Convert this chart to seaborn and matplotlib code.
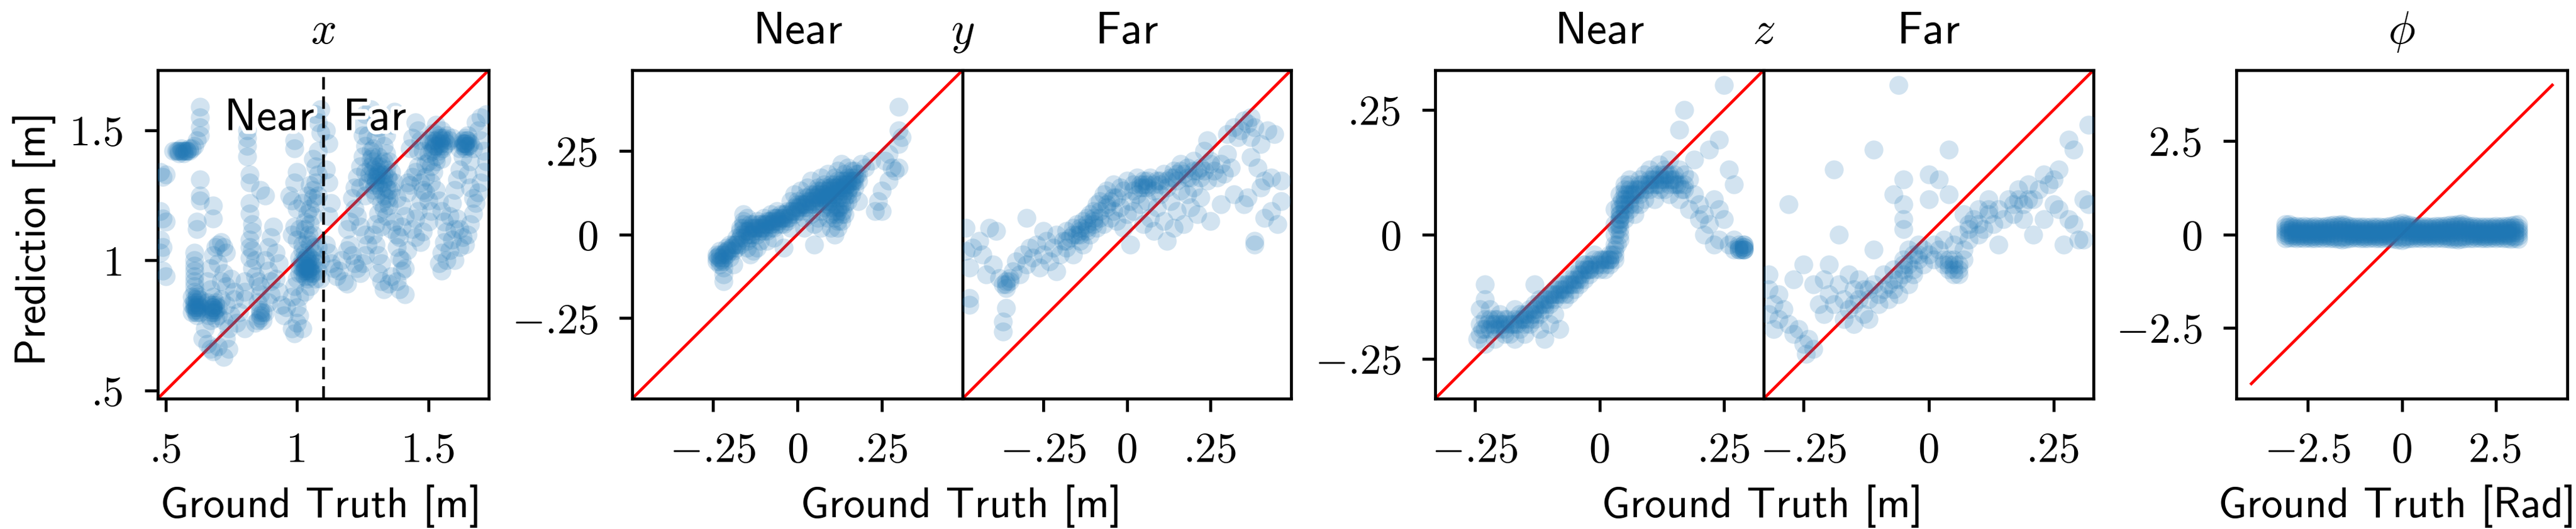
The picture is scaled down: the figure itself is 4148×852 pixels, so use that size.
import numpy as np
import pandas as pd
import matplotlib
matplotlib.use("Agg")
import matplotlib.pyplot as plt
import matplotlib.patheffects as pe
import seaborn as sns

# ---------------- data (ground truth, prediction) ----------------
x_points = [
    (0.53,1.42),(0.54,1.42),(0.55,1.41),(0.56,1.42),(0.57,1.42),(0.58,1.42),(0.59,1.43),(0.60,1.43),
    (0.61,1.44),(0.62,1.46),(0.63,1.48),(0.63,1.51),(0.63,1.55),(0.63,1.59),
    (0.48,1.34),(0.50,1.33),(0.49,1.32),(0.48,1.19),(0.49,1.16),(0.50,1.15),(0.48,1.08),(0.49,1.05),
    (0.48,1.03),(0.49,0.96),(0.50,0.94),
    (0.63,1.31),(0.63,1.25),(0.63,1.23),(0.62,1.15),(0.62,1.12),(0.61,1.03),(0.61,1.00),(0.61,0.98),
    (0.61,0.96),(0.61,0.94),(0.61,0.92),(0.61,0.90),(0.61,0.88),(0.62,0.86),(0.62,0.84),(0.62,0.82),
    (0.62,0.81),(0.63,0.80),(0.60,0.83),(0.60,0.80),
    (0.64,0.70),(0.66,0.68),(0.67,0.66),(0.68,0.65),(0.70,0.67),(0.72,0.63),(0.74,0.66),(0.65,0.74),
    (0.67,0.77),(0.68,0.80),(0.68,0.82),(0.69,0.84),(0.68,0.86),(0.67,0.89),(0.66,0.92),(0.67,0.97),
    (0.68,1.02),(0.69,1.05),(0.70,1.06),(0.72,1.05),(0.71,1.07),(0.73,1.03),(0.70,0.99),(0.72,0.95),
    (0.71,0.92),(0.73,0.90),(0.71,0.85),(0.73,0.83),(0.70,0.79),(0.72,0.77),(0.74,0.74),(0.73,0.70),
    (0.75,0.79),(0.76,0.85),(0.76,0.88),(0.75,0.93),(0.77,0.76),(0.78,0.80),(0.80,0.74),(0.80,0.85),
    (0.80,0.88),(0.80,0.92),(0.68,1.21),(0.68,1.16),
    (0.81,1.50),(0.81,1.47),(0.81,1.44),(0.81,1.40),(0.82,1.33),(0.82,1.30),(0.86,1.27),(0.88,1.25),
    (0.82,1.22),(0.82,1.18),(0.83,1.14),(0.83,1.11),(0.82,1.08),(0.83,1.04),(0.82,1.01),(0.83,0.97),
    (0.84,0.94),(0.85,0.92),(0.86,0.90),(0.86,0.87),(0.85,0.84),(0.86,0.81),(0.86,0.78),(0.87,0.77),
    (0.84,0.76),(0.88,0.80),(0.89,0.84),(0.90,0.87),(0.90,0.92),(0.89,0.96),(0.88,1.00),(0.89,1.05),
    (0.90,1.09),(0.91,1.13),(0.92,1.03),(0.93,0.99),(0.92,0.93),(0.93,0.88),(0.94,0.83),(0.95,0.79),
    (0.96,0.82),
    (0.98,0.74),(0.99,0.72),(1.00,0.76),(1.01,0.79),(1.02,0.74),(1.00,0.82),(0.98,0.86),(0.99,0.90),
    (1.00,0.93),(1.01,0.95),(1.02,0.97),(1.03,0.96),(1.04,0.95),(1.05,0.97),(1.06,0.95),(1.07,0.93),
    (1.04,0.99),(1.05,1.01),(1.03,1.03),(1.02,1.06),(1.00,1.08),(0.98,1.10),(0.99,1.13),(1.01,1.12),
    (1.03,1.15),(1.04,1.18),(1.05,1.20),(1.06,1.17),(1.07,1.22),(1.08,1.25),(1.06,1.27),(1.04,1.25),
    (1.02,1.22),(1.00,1.20),(0.98,1.23),(0.97,1.25),(0.99,1.30),(1.00,1.34),(0.99,1.43),(0.99,1.46),
    (1.07,1.30),(1.08,1.33),(1.07,1.36),(1.06,1.39),(1.08,1.42),(1.09,1.49),(1.08,1.53),(1.07,1.56),
    (1.09,1.58),(1.06,1.10),(1.08,1.05),(1.09,1.00),(1.08,0.96),(1.09,0.93),(1.05,0.90),(1.03,0.88),
    (1.01,0.86),(1.04,0.97),(1.03,0.94),(1.05,1.06),
    (1.11,1.50),(1.12,1.45),(1.11,1.35),(1.12,1.30),(1.13,1.22),(1.12,1.17),(1.11,1.06),(1.12,1.03),
    (1.13,0.99),(1.14,0.97),(1.15,0.94),(1.16,0.96),(1.18,0.92),(1.19,0.91),(1.17,1.00),(1.19,1.04),
    (1.20,1.06),(1.21,1.02),(1.22,0.99),(1.23,0.97),(1.24,0.95),(1.25,0.99),(1.26,1.02),(1.27,1.06),
    (1.26,1.10),(1.24,1.13),(1.23,1.17),(1.22,1.20),(1.20,1.15),(1.19,1.12),(1.21,1.24),(1.22,1.28),
    (1.23,1.32),(1.24,1.36),(1.25,1.40),(1.26,1.44),(1.25,1.48),(1.24,1.52),(1.26,1.56),(1.28,1.58),
    (1.30,1.55),(1.31,1.51),(1.30,1.47),(1.29,1.43),(1.28,1.39),(1.29,1.35),(1.30,1.32),(1.31,1.29),
    (1.32,1.27),(1.33,1.25),(1.34,1.28),(1.35,1.31),(1.36,1.34),(1.35,1.38),(1.34,1.41),(1.33,1.44),
    (1.34,1.48),(1.36,1.52),(1.37,1.57),(1.32,1.22),(1.31,1.18),(1.30,1.14),(1.29,1.10),(1.30,1.06),
    (1.31,1.02),(1.32,0.99),(1.31,0.95),(1.32,0.92),(1.33,0.89),(1.35,0.91),(1.36,0.94),(1.38,0.92),
    (1.39,0.89),(1.41,0.87),(1.40,0.96),(1.39,1.01),(1.38,1.05),(1.39,1.09),(1.40,1.13),(1.41,1.17),
    (1.40,1.21),(1.38,1.24),(1.42,1.26),(1.43,1.29),(1.44,1.32),(1.45,1.34),(1.46,1.36),(1.47,1.30),
    (1.48,1.27),(1.47,1.23),(1.46,1.19),(1.45,1.16),(1.44,1.12),(1.45,1.09),(1.47,1.07),(1.48,1.11),
    (1.50,1.15),(1.51,1.19),(1.50,1.23),(1.49,1.26),(1.51,1.30),(1.52,1.34),(1.53,1.38),(1.54,1.42),
    (1.55,1.45),(1.56,1.47),(1.57,1.48),(1.55,1.50),(1.53,1.52),(1.52,1.49),(1.51,1.45),(1.50,1.41),
    (1.49,1.37),(1.48,1.42),(1.47,1.46),(1.46,1.50),(1.45,1.53),(1.44,1.47),(1.43,1.43),(1.53,1.27),
    (1.54,1.23),(1.55,1.19),(1.56,1.15),(1.57,1.11),(1.56,1.07),(1.55,1.03),(1.54,0.99),(1.55,0.96),
    (1.57,1.00),(1.58,1.04),(1.59,1.08),(1.60,1.12),(1.58,1.17),(1.59,1.22),(1.60,1.27),(1.61,1.31),
    (1.62,1.35),(1.63,1.40),(1.64,1.45),(1.64,1.47),(1.65,1.46),(1.63,1.44),(1.62,1.43),(1.61,1.16),
    (1.62,1.12),(1.63,1.09),(1.64,1.06),(1.65,1.10),(1.66,1.14),(1.67,1.18),(1.68,1.22),(1.69,1.26),
    (1.70,1.30),(1.71,1.34),(1.72,1.38),(1.71,1.42),(1.70,1.46),(1.69,1.50),(1.68,1.53),(1.70,1.55),
    (1.72,1.56),(1.67,1.43),(1.66,1.38),(1.65,1.33),(1.66,1.28),(1.67,1.24),(1.62,1.05),(1.60,1.00),
    (0.61,0.83),(0.62,0.79),(0.61,0.85),(0.63,0.82),(0.62,0.87),(0.60,0.86),(0.67,0.80),(0.68,0.83),
    (0.69,0.81),(0.66,0.84),(0.70,0.82),(0.69,0.78),(0.56,1.43),(0.57,1.41),(0.59,1.42),(1.02,0.95),
    (1.04,0.93),(1.06,0.98),(1.03,1.00),(1.05,0.94),(1.07,0.99),(1.01,0.98),(1.06,1.03),(1.04,1.08),
    (1.03,1.12),(1.05,1.14),(1.27,1.30),(1.29,1.27),(1.30,1.36),(1.32,1.33),(1.33,1.38),(1.28,1.42),
    (1.26,1.34),(1.35,1.27),(1.37,1.30),(1.31,1.40),(1.27,1.48),(1.50,1.46),(1.52,1.43),(1.54,1.47),
    (1.56,1.44),(1.53,1.40),(1.49,1.32),(1.51,1.36),(1.55,1.39),(1.57,1.45),(1.63,1.46),(1.64,1.43),
    (1.65,1.48),(1.66,1.45),(1.32,1.13),(1.34,1.17),(1.35,1.21),(1.37,1.15),(0.86,0.79),(0.85,0.77),
    (0.87,0.80),(1.40,1.00),(1.42,1.04),(1.41,0.97),(1.06,1.24),(1.05,1.29),(0.82,1.05),(0.84,1.00),
    (0.62,0.83),(0.61,0.81),(0.63,0.85),(0.68,0.81),(0.67,0.83),(1.03,0.97),(1.05,0.96),(1.04,1.00),
    (1.06,1.00),(1.02,0.99),(1.30,1.30),(1.31,1.34),(1.28,1.36),(1.32,1.37),(1.33,1.31),(1.29,1.32),
    (1.52,1.46),(1.54,1.45),(1.56,1.46),(1.53,1.44),(1.50,1.38),(1.64,1.44),(1.65,1.44),(1.58,1.46),
    (1.59,1.47),
    (0.61,0.82),(0.62,0.80),(0.61,0.84),(0.62,0.85),(0.68,0.82),(0.69,0.83),(0.67,0.81),(0.58,1.42),
    (0.55,1.42),(1.03,0.98),(1.04,0.96),(1.05,0.99),(1.02,1.00),(1.04,1.02),(1.31,1.33),(1.30,1.31),
    (1.29,1.38),(1.34,1.35),(1.33,1.33),(1.52,1.45),(1.55,1.47),(1.53,1.46),(1.54,1.44),(1.64,1.45),
    (1.63,1.45),(1.34,1.24),(1.36,1.27),(1.02,1.04),(1.01,1.01),(0.86,0.80),
    (0.615,0.82),(0.625,0.83),(0.615,0.80),(0.675,0.82),(0.685,0.80),(0.665,0.79),(0.575,1.42),
    (0.565,1.42),(0.545,1.42),(1.025,0.96),(1.035,0.98),(1.045,0.97),(1.055,0.95),(1.035,1.01),
    (1.065,1.05),(1.045,1.10),(1.305,1.33),(1.315,1.36),(1.295,1.29),(1.325,1.30),(1.275,1.33),
    (1.285,1.40),(1.345,1.32),(1.525,1.44),(1.545,1.46),(1.535,1.48),(1.515,1.42),(1.555,1.43),
    (1.635,1.45),(1.645,1.46),(1.655,1.44),(1.33,1.20),(1.35,1.24),(1.26,1.25),(1.24,1.28),
    (1.36,1.12),(1.38,1.10),(1.30,1.25),(1.42,1.30),(1.46,1.42),
]

y_near_points = [
    (-0.24,-0.06),(-0.24,-0.08),(-0.23,-0.05),(-0.23,-0.07),(-0.23,-0.09),(-0.22,-0.06),(-0.22,-0.10),
    (-0.22,-0.12),(-0.22,-0.14),(-0.21,-0.04),(-0.20,-0.03),(-0.19,-0.05),(-0.18,-0.01),(-0.17,-0.03),
    (-0.17,0.01),(-0.16,0.04),(-0.16,0.06),(-0.16,0.02),(-0.15,-0.02),(-0.15,0.00),(-0.15,-0.04),
    (-0.14,0.03),(-0.14,-0.01),(-0.13,0.02),(-0.13,-0.05),(-0.12,0.00),(-0.12,0.04),(-0.11,0.02),
    (-0.11,-0.02),(-0.10,0.03),(-0.10,0.05),(-0.09,0.01),(-0.09,0.04),(-0.08,0.03),(-0.08,0.06),
    (-0.07,0.02),(-0.07,0.05),(-0.06,0.04),(-0.06,0.07),(-0.05,0.03),(-0.05,0.06),(-0.04,0.05),
    (-0.04,-0.04),(-0.03,0.07),(-0.03,0.04),(-0.02,0.06),(-0.02,0.10),(-0.01,0.08),(-0.01,0.12),
    (0.00,0.07),(0.00,0.10),(0.01,0.09),(0.01,0.13),(0.02,0.05),(0.02,0.11),(0.03,0.08),(0.03,0.14),
    (0.04,0.10),(0.04,0.06),(0.04,0.16),(0.05,0.12),(0.05,0.03),(0.05,-0.03),(0.06,0.14),(0.06,0.09),
    (0.06,0.05),(0.07,0.13),(0.07,0.17),(0.07,0.02),(0.08,0.11),(0.08,0.15),(0.08,0.08),(0.09,0.13),
    (0.09,0.18),(0.09,0.05),(0.10,0.10),(0.10,0.15),(0.10,0.02),(0.11,0.12),(0.11,0.17),(0.11,0.07),
    (0.11,0.00),(0.12,0.14),(0.12,0.19),(0.12,0.04),(0.13,0.16),(0.13,0.09),(0.13,0.21),(0.14,0.13),
    (0.14,0.18),(0.14,0.06),(0.15,0.15),(0.15,0.20),(0.15,0.10),(0.16,0.17),(0.16,0.12),(0.17,0.19),
    (0.17,0.14),(0.18,0.16),(0.18,0.10),(0.19,0.21),(0.20,0.20),(0.22,0.22),(0.23,0.07),(0.24,0.10),
    (0.25,0.13),(0.25,0.07),(0.26,0.22),(0.27,0.24),(0.27,0.16),(0.28,0.20),(0.29,0.19),(0.30,0.20),
    (0.30,0.27),(0.30,0.31),(0.31,0.29),(0.30,0.38),(-0.20,-0.07),(-0.19,-0.09),(-0.18,-0.04),
    (-0.14,-0.06),(-0.12,-0.04),(-0.09,-0.02),(-0.07,-0.01),(-0.02,0.02),(0.02,0.02),(0.06,0.12),
    (0.08,0.13),(0.12,0.11),(0.14,0.15),(0.16,0.15),(0.10,0.12),(0.04,0.09),(-0.08,0.02),(-0.17,0.02),
    (-0.23,-0.06),(-0.22,-0.08),(-0.21,-0.06),(-0.14,0.00),(-0.13,0.01),(-0.11,0.01),(-0.10,0.01),
    (-0.06,0.05),(-0.04,0.03),(0.00,0.08),(0.02,0.09),(0.04,0.12),(0.06,0.11),(0.08,0.12),(0.09,0.10),
    (0.10,0.14),(0.11,0.15),(0.12,0.16),(0.13,0.13),(0.14,0.16),(0.15,0.17),(0.16,0.19),(0.13,0.06),
    (0.12,0.02),(0.10,0.06),
    (-0.20,-0.05),(-0.19,-0.03),(-0.17,-0.01),(-0.15,0.01),(-0.13,0.03),(-0.11,0.03),(-0.09,0.03),
    (-0.07,0.04),(-0.05,0.05),(-0.03,0.05),(-0.01,0.06),(0.01,0.07),(0.03,0.10),(0.05,0.09),(0.07,0.10),
    (0.09,0.11),(0.11,0.13),(0.13,0.14),(0.15,0.13),(0.17,0.16),(0.07,0.07),(0.09,0.09),(0.11,0.09),
    (0.13,0.11),(0.15,0.12),(0.12,0.07),(0.14,0.09),(-0.16,0.03),(-0.15,0.05),(0.18,0.18),
    (-0.24,-0.07),(-0.23,-0.08),(-0.22,-0.07),(-0.21,-0.05),(-0.18,-0.03),(-0.16,-0.01),(-0.14,0.02),
    (-0.12,0.02),(-0.10,0.02),(-0.08,0.04),(-0.06,0.03),(-0.04,0.06),(-0.02,0.07),(0.00,0.09),
    (0.02,0.08),(0.03,0.11),(0.05,0.10),(0.06,0.13),(0.07,0.11),(0.08,0.14),(0.09,0.12),(0.10,0.13),
    (0.11,0.14),(0.12,0.13),(0.13,0.15),(0.14,0.14),(0.15,0.16),(0.16,0.16),(0.17,0.17),(0.11,0.05),
    (0.12,0.08),(0.13,0.04),(0.14,0.11),(0.10,0.08),
    (-0.235,-0.065),(-0.225,-0.075),(-0.215,-0.055),(-0.205,-0.045),(-0.195,-0.04),(-0.185,-0.03),
    (-0.175,-0.02),(-0.165,0.0),(-0.155,0.01),(-0.145,0.01),(-0.135,0.0),(-0.125,0.02),(-0.115,0.03),
    (-0.105,0.02),(-0.095,0.03),(-0.085,0.04),(-0.075,0.03),(-0.065,0.05),(-0.055,0.04),(-0.045,0.05),
    (-0.035,0.06),(-0.025,0.05),(-0.015,0.07),(-0.005,0.07),(0.005,0.08),(0.015,0.09),(0.025,0.09),
    (0.035,0.10),(0.045,0.11),(0.055,0.11),(0.065,0.12),(0.075,0.12),(0.085,0.10),(0.095,0.14),
    (0.105,0.11),(0.115,0.14),(0.125,0.15),(0.135,0.12),(0.145,0.15),(0.155,0.14),(0.165,0.16),
    (0.175,0.18),(0.125,0.08),(0.115,0.06),(0.135,0.07),
]

y_far_points = [
    (-0.48,0.02),(-0.48,-0.05),(-0.47,-0.10),(-0.47,-0.19),(-0.47,-0.21),(-0.46,-0.04),(-0.44,-0.02),
    (-0.43,-0.06),(-0.42,-0.12),(-0.41,0.02),(-0.40,-0.09),(-0.39,0.01),(-0.38,-0.13),(-0.37,-0.15),
    (-0.36,-0.14),(-0.36,-0.16),(-0.35,-0.13),(-0.36,-0.22),(-0.37,-0.26),(-0.37,-0.29),(-0.34,-0.11),
    (-0.33,-0.08),(-0.32,-0.12),(-0.31,-0.06),(-0.30,0.05),(-0.30,-0.09),(-0.29,-0.04),(-0.28,-0.07),
    (-0.27,-0.03),(-0.26,-0.10),(-0.25,0.01),(-0.25,-0.06),(-0.24,-0.02),(-0.23,-0.08),(-0.22,-0.04),
    (-0.21,-0.11),(-0.21,0.00),(-0.20,-0.06),(-0.19,-0.02),(-0.18,0.01),(-0.18,-0.04),(-0.17,-0.01),
    (-0.16,0.02),(-0.16,-0.06),(-0.15,0.00),(-0.15,0.03),(-0.14,-0.02),(-0.14,0.01),(-0.13,0.04),
    (-0.13,-0.03),(-0.12,0.02),(-0.12,0.05),(-0.11,0.00),(-0.11,0.06),(-0.10,0.03),(-0.10,0.07),
    (-0.09,0.09),(-0.09,0.02),(-0.08,0.05),(-0.08,0.10),(-0.07,0.03),(-0.07,0.12),(-0.06,0.08),
    (-0.06,0.13),(-0.05,0.05),(-0.05,0.10),(-0.04,0.07),(-0.04,0.15),(-0.03,0.11),(-0.03,0.04),
    (-0.02,0.14),(-0.02,0.08),(-0.01,0.02),(-0.01,0.13),(0.00,0.06),(0.00,0.16),(0.01,-0.03),
    (0.01,0.10),(0.02,0.15),(0.02,0.07),(0.03,0.12),(0.03,0.17),(0.04,0.15),(0.04,0.09),(0.05,0.16),
    (0.05,0.03),(0.06,0.14),(0.06,0.10),(0.07,0.17),(0.07,0.05),(0.08,0.13),(0.08,0.01),(0.09,0.16),
    (0.09,0.08),(0.10,0.15),(0.10,0.12),(0.11,0.18),(0.11,0.04),(0.12,0.14),(0.12,-0.02),(0.13,0.17),
    (0.13,0.10),(0.14,0.19),(0.14,0.02),(0.15,0.16),(0.15,0.07),(0.16,0.21),(0.16,0.13),(0.17,0.18),
    (0.17,0.03),(0.18,0.20),(0.18,0.12),(0.19,0.17),(0.19,0.08),(0.20,0.22),(0.20,0.14),(0.21,0.19),
    (0.21,0.06),(0.22,0.17),(0.22,0.11),(0.23,0.25),(0.23,0.19),(0.24,0.28),(0.24,0.16),(0.25,0.22),
    (0.25,0.04),(0.26,0.19),(0.27,0.17),(0.28,0.21),(0.28,0.09),(0.29,0.18),(0.30,0.30),(0.30,0.24),
    (0.31,0.20),(0.32,0.32),(0.32,0.12),(0.33,0.29),(0.34,0.31),(0.35,0.34),(0.35,0.09),(0.36,0.33),
    (0.36,0.11),(0.37,0.29),(0.37,0.23),(0.37,0.35),(0.38,0.32),(0.38,-0.02),(0.38,-0.03),(0.39,0.20),
    (0.40,0.27),(0.40,0.14),(0.41,0.05),(0.41,0.16),(0.42,0.31),(0.43,0.17),(0.43,0.07),(0.44,0.30),
    (0.45,0.03),(0.46,0.10),(0.46,0.16),
    (-0.12,0.03),(-0.10,0.05),(-0.14,0.00),(0.05,0.14),(0.08,0.15),(0.12,0.16),(0.15,0.18),
    (0.18,0.17),(0.20,0.19),(0.25,0.21),(-0.36,-0.15),(-0.35,-0.14),
    (-0.18,-0.02),(-0.16,0.00),(-0.14,0.02),(-0.12,0.01),(-0.10,0.04),(-0.08,0.07),(-0.06,0.09),
    (-0.04,0.11),(0.02,0.13),(0.04,0.14),(0.06,0.15),(0.10,0.16),(0.14,0.17),(0.16,0.19),(0.22,0.20),
    (0.06,0.16),(0.05,0.15),
]

z_near_points = [
    (-0.23,-0.10),(-0.23,-0.13),(-0.24,-0.15),(-0.24,-0.18),(-0.245,-0.21),(-0.24,-0.20),(-0.23,-0.22),
    (-0.23,-0.17),(-0.22,-0.19),(-0.22,-0.15),(-0.21,-0.18),(-0.21,-0.21),(-0.20,-0.19),(-0.20,-0.16),
    (-0.19,-0.20),(-0.19,-0.17),(-0.18,-0.18),(-0.17,-0.15),(-0.17,-0.21),(-0.16,-0.19),(-0.16,-0.17),
    (-0.15,-0.20),(-0.15,-0.16),(-0.14,-0.18),(-0.14,-0.15),(-0.13,-0.17),(-0.13,-0.10),(-0.13,-0.14),
    (-0.12,-0.16),(-0.12,-0.19),(-0.12,-0.13),(-0.11,-0.15),(-0.11,-0.21),(-0.10,-0.14),(-0.10,-0.12),
    (-0.10,-0.18),(-0.09,-0.13),(-0.09,-0.16),(-0.08,-0.12),(-0.08,-0.10),(-0.08,-0.19),(-0.07,-0.11),
    (-0.07,-0.13),(-0.06,-0.10),(-0.06,-0.12),(-0.05,-0.09),(-0.05,-0.11),(-0.04,-0.08),(-0.04,-0.10),
    (-0.03,-0.07),(-0.03,-0.09),(-0.02,-0.08),(-0.02,-0.06),(-0.01,-0.07),(-0.01,-0.05),(0.00,-0.06),
    (0.01,-0.05),(0.01,-0.07),(0.02,-0.06),(0.02,-0.04),(0.03,-0.05),(0.03,-0.02),(0.03,0.00),
    (0.03,0.02),(0.04,0.01),(0.04,-0.01),(0.04,0.04),(0.04,0.06),(0.04,0.08),(0.05,0.07),(0.05,0.03),
    (0.05,0.10),(0.06,0.05),(0.06,0.09),(0.06,0.11),(0.07,0.04),(0.07,0.08),(0.08,0.10),(0.08,0.06),
    (0.09,0.12),(0.09,0.07),(0.10,0.09),(0.10,0.13),(0.11,0.10),(0.11,0.07),(0.12,0.12),(0.12,0.14),
    (0.13,0.09),(0.13,0.11),(0.14,0.15),(0.14,0.08),(0.15,0.12),(0.15,0.10),(0.16,0.13),(0.16,0.07),
    (0.16,0.21),(0.17,0.25),(0.17,0.09),(0.18,0.11),(0.18,0.05),(0.19,0.08),(0.19,0.15),(0.20,0.06),
    (0.20,0.03),(0.21,0.04),(0.21,0.00),(0.22,0.02),(0.22,0.17),(0.23,0.07),(0.23,-0.02),(0.24,0.19),
    (0.24,0.05),(0.24,-0.01),(0.25,0.30),(0.25,0.03),(0.26,0.13),(0.26,-0.02),(0.27,0.10),(0.27,-0.01),
    (0.28,-0.03),(0.28,-0.02),(0.29,-0.03),(0.29,-0.02),(0.29,-0.025),(-0.03,-0.06),(-0.01,-0.04),
    (0.04,0.03),(0.05,0.05),(0.06,0.07),(0.12,0.10),(0.14,0.11),(-0.15,-0.18),(-0.17,-0.18),
    (-0.20,-0.18),(-0.18,-0.20),(-0.16,-0.16),(-0.14,-0.17),(-0.11,-0.13),(-0.09,-0.11),(-0.07,-0.10),
    (-0.05,-0.08),(-0.03,-0.06),(0.02,-0.05),(0.03,0.05),(0.05,0.08),(0.06,0.08),(0.08,0.08),
    (0.10,0.11),(0.11,0.12),(0.13,0.13),(0.15,0.11),(0.29,-0.03),(0.28,-0.025),(0.04,0.02),
    (-0.22,-0.17),(-0.21,-0.19),(-0.19,-0.18),(-0.13,-0.15),(-0.12,-0.14),(-0.10,-0.13),(-0.08,-0.11),
    (-0.06,-0.09),(-0.04,-0.07),(-0.02,-0.07),(0.00,-0.05),(0.02,-0.05),(0.03,-0.03),(0.04,0.00),
    (0.04,0.05),(0.05,0.06),(0.05,0.09),(0.06,0.06),(0.07,0.09),(0.08,0.11),(0.09,0.09),(0.11,0.11),
    (0.12,0.09),(0.13,0.12),(0.14,0.10),(0.16,0.10),(0.17,0.12),(0.28,-0.03),(0.29,-0.02),(0.27,-0.03),
    (-0.23,-0.19),(-0.21,-0.17),(-0.19,-0.19),(-0.17,-0.17),(-0.15,-0.17),(-0.13,-0.16),(-0.11,-0.14),
    (-0.09,-0.12),(-0.07,-0.12),(-0.05,-0.10),(-0.04,-0.09),(-0.02,-0.07),(0.00,-0.07),(0.01,-0.06),
    (0.03,-0.04),(0.035,0.01),(0.04,0.03),(0.045,0.07),(0.05,0.04),(0.06,0.10),(0.07,0.06),
    (0.08,0.09),(0.10,0.10),(0.12,0.11),(0.14,0.12),(0.17,0.10),(0.29,-0.03),
    (-0.235,-0.19),(-0.225,-0.18),(-0.215,-0.18),(-0.205,-0.17),(-0.195,-0.18),(-0.185,-0.17),
    (-0.175,-0.18),(-0.165,-0.18),(-0.155,-0.17),(-0.145,-0.16),(-0.135,-0.16),(-0.125,-0.15),
    (-0.115,-0.14),(-0.105,-0.13),(-0.095,-0.12),(-0.085,-0.12),(-0.075,-0.11),(-0.065,-0.10),
    (-0.055,-0.10),(-0.045,-0.09),(-0.035,-0.08),(-0.025,-0.07),(-0.015,-0.06),(-0.005,-0.06),
    (0.005,-0.05),(0.015,-0.05),(0.025,-0.04),(0.035,-0.02),(0.038,0.02),(0.042,0.04),(0.048,0.06),
    (0.055,0.08),(0.065,0.08),(0.075,0.09),(0.085,0.10),(0.095,0.10),(0.105,0.11),(0.115,0.10),
    (0.125,0.11),(0.135,0.12),(0.145,0.11),(0.155,0.10),(0.165,0.09),(0.285,-0.03),(0.29,-0.025),
]

z_far_points = [
    (-0.32,-0.08),(-0.32,-0.11),(-0.31,-0.14),(-0.32,-0.16),(-0.31,-0.19),(-0.30,-0.12),(-0.30,-0.17),
    (-0.29,-0.15),(-0.28,-0.18),(-0.27,-0.20),(-0.26,-0.19),(-0.25,-0.22),(-0.245,-0.24),(-0.24,-0.21),
    (-0.23,-0.23),(-0.28,0.06),(-0.27,-0.09),(-0.25,-0.06),(-0.23,-0.10),(-0.22,-0.14),(-0.21,-0.09),
    (-0.21,-0.16),(-0.20,-0.12),(-0.20,-0.06),(-0.19,0.13),(-0.19,-0.14),(-0.18,-0.10),(-0.18,0.00),
    (-0.17,-0.17),(-0.17,-0.13),(-0.16,-0.08),(-0.16,-0.15),(-0.15,-0.11),(-0.15,-0.18),(-0.14,-0.13),
    (-0.14,-0.09),(-0.13,-0.16),(-0.13,-0.11),(-0.12,-0.13),(-0.12,-0.17),(-0.11,-0.03),(-0.11,0.17),
    (-0.11,-0.10),(-0.10,-0.14),(-0.10,-0.12),(-0.09,-0.08),(-0.09,-0.11),(-0.08,-0.10),(-0.08,-0.13),
    (-0.07,-0.07),(-0.07,0.08),(-0.07,-0.11),(-0.06,-0.09),(-0.06,-0.12),(-0.06,0.30),(-0.05,0.11),
    (-0.05,0.06),(-0.05,0.03),(-0.05,0.01),(-0.05,-0.08),(-0.05,-0.05),(-0.04,-0.10),(-0.04,-0.06),
    (-0.03,-0.04),(-0.03,-0.08),(-0.02,-0.05),(-0.02,-0.02),(-0.01,-0.06),(-0.01,-0.03),(0.00,0.12),
    (0.00,-0.04),(0.00,0.07),(0.01,-0.02),(0.01,-0.05),(0.02,-0.03),(0.02,0.11),(0.03,-0.06),
    (0.03,-0.01),(0.04,0.17),(0.04,0.08),(0.04,-0.07),(0.05,-0.08),(0.05,-0.02),(0.06,-0.06),
    (0.06,0.00),(0.07,-0.03),(0.07,0.04),(0.08,-0.01),(0.08,0.02),(0.09,0.03),(0.10,0.00),(0.10,0.05),
    (0.11,0.01),(0.12,0.04),(0.12,0.07),(0.13,0.02),(0.14,-0.02),(0.14,0.05),(0.15,0.03),(0.16,0.07),
    (0.17,0.06),(0.17,0.04),(0.18,0.09),(0.19,0.06),(0.19,0.03),(0.20,0.10),(0.21,0.07),(0.21,0.00),
    (0.22,0.09),(0.23,0.12),(0.23,0.03),(0.24,0.10),(0.25,0.11),(0.25,0.06),(0.26,0.13),(0.26,0.05),
    (0.27,-0.02),(0.28,0.19),(0.28,0.03),(0.29,0.17),(0.29,0.02),(0.30,-0.01),(0.31,0.07),(0.31,-0.01),
    (0.32,0.22),(0.32,0.06),(0.05,-0.07),(0.04,-0.05),(0.06,-0.08),(-0.07,-0.09),(-0.04,-0.03),
    (-0.05,-0.07),(0.03,-0.05),(0.05,-0.05),(-0.03,-0.07),(0.07,-0.05),(-0.15,-0.14),(-0.12,-0.11),
    (0.10,0.02),(0.20,0.07),
    (0.05,-0.06),(0.04,-0.06),(-0.05,-0.06),(0.06,-0.07),(-0.02,-0.04),(0.08,0.01),(0.12,0.05),
    (0.18,0.07),
]

# phi: ground truth samples and the predictions of six passes over them
phi_gt = [-3.1,-3.0,-2.9,-2.8,-2.7,-2.6,-2.5,-2.4,-2.3,-2.2,-2.1,-2.0,-1.9,-1.8,-1.7,-1.6,-1.5,-1.4,
          -1.3,-1.2,-1.1,-1.0,-0.9,-0.8,-0.7,-0.6,-0.5,-0.4,-0.3,-0.2,-0.1,0.0,0.1,0.2,0.3,0.4,0.5,
          0.6,0.7,0.8,0.9,1.0,1.1,1.2,1.3,1.4,1.5,1.6,1.7,1.8,1.9,2.0,2.1,2.2,2.3,2.4,2.5,2.6,2.7,
          2.8,2.9,3.0,3.1]
phi_pred_a = [0.27,0.27,0.23,0.22,0.21,0.22,0.20,0.21,0.22,0.20,0.21,0.22,0.24,0.25,0.26,0.28,0.25,
              0.22,0.21,0.20,0.21,0.20,0.19,0.20,0.21,0.20,0.19,0.21,0.22,0.24,0.27,0.30,0.28,0.25,
              0.23,0.22,0.21,0.22,0.21,0.20,0.22,0.23,0.22,0.24,0.25,0.26,0.28,0.29,0.26,0.23,0.22,
              0.21,0.20,0.21,0.20,0.21,0.22,0.21,0.22,0.23,0.24,0.26,0.27]
phi_pred_b = [0.19,0.21,0.17,0.16,0.15,0.16,0.14,0.15,0.16,0.14,0.15,0.16,0.18,0.19,0.20,0.22,0.19,
              0.16,0.15,0.14,0.15,0.14,0.13,0.14,0.15,0.14,0.13,0.15,0.16,0.18,0.21,0.24,0.22,0.19,
              0.17,0.16,0.15,0.16,0.15,0.14,0.16,0.17,0.16,0.18,0.19,0.20,0.22,0.23,0.20,0.17,0.16,
              0.15,0.14,0.15,0.14,0.15,0.16,0.15,0.16,0.17,0.18,0.19,0.18]
phi_pred_c = [0.10,0.12,0.09,0.08,0.09,0.07,0.08,0.09,0.07,0.08,0.09,0.08,0.10,0.11,0.12,0.13,0.11,
              0.09,0.08,0.07,0.08,0.09,0.07,0.08,0.07,0.08,0.09,0.08,0.09,0.11,0.13,0.15,0.14,0.11,
              0.09,0.08,0.09,0.08,0.07,0.08,0.09,0.10,0.09,0.10,0.11,0.12,0.13,0.14,0.12,0.10,0.09,
              0.08,0.07,0.08,0.09,0.08,0.07,0.08,0.09,0.10,0.11,0.10,0.11]
phi_pred_d = [0.04,0.05,0.03,0.02,0.03,0.02,0.03,0.01,0.02,0.03,0.02,0.03,0.04,0.03,0.05,0.06,0.04,
              0.03,0.02,0.03,0.02,0.01,0.02,0.03,0.02,0.01,0.02,0.03,0.04,0.05,0.07,0.09,0.07,0.05,
              0.04,0.03,0.02,0.03,0.02,0.03,0.04,0.03,0.04,0.05,0.04,0.06,0.07,0.06,0.05,0.03,0.02,
              0.03,0.02,0.01,0.02,0.03,0.02,0.03,0.04,0.03,0.04,0.05,0.04]
phi_pred_e = [-0.02,-0.01,-0.03,-0.04,-0.03,-0.04,-0.03,-0.05,-0.04,-0.03,-0.04,-0.03,-0.04,-0.05,
              -0.06,-0.07,-0.05,-0.03,-0.04,-0.03,-0.04,-0.05,-0.04,-0.03,-0.04,-0.05,-0.04,-0.03,
              -0.04,-0.05,-0.06,-0.07,-0.06,-0.04,-0.03,-0.03,-0.04,-0.03,-0.04,-0.03,-0.02,-0.03,
              -0.02,-0.04,-0.05,-0.06,-0.07,-0.06,-0.04,-0.03,-0.04,-0.03,-0.04,-0.05,-0.04,-0.03,
              -0.04,-0.03,-0.02,-0.03,-0.04,-0.05,-0.04]
phi_pred_f = [-0.10,-0.09,-0.09,-0.10,-0.09,-0.10,-0.09,-0.10,-0.11,-0.09,-0.10,-0.09,-0.10,-0.11,
              -0.12,-0.14,-0.12,-0.10,-0.09,-0.09,-0.10,-0.11,-0.10,-0.09,-0.10,-0.11,-0.10,-0.09,
              -0.10,-0.12,-0.14,-0.15,-0.13,-0.11,-0.10,-0.09,-0.10,-0.09,-0.10,-0.09,-0.10,-0.09,
              -0.10,-0.11,-0.12,-0.13,-0.14,-0.13,-0.11,-0.10,-0.10,-0.09,-0.10,-0.11,-0.10,-0.09,
              -0.10,-0.09,-0.10,-0.11,-0.12,-0.11,-0.12]

x_threshold = 1.1
x_lim = (0.47, 1.73)
y_lim = (-0.49, 0.49)
z_lim = (-0.33, 0.33)
phi_lim = (-4.4, 4.4)
phi_line = (-4.0, 4.0)

x_ticks = [0.5, 1.0, 1.5]
x_ticklabels = [".5", "1", "1.5"]
yz_ticks = [-0.25, 0.0, 0.25]
yz_ticklabels = ["$-$.25", "0", ".25"]
phi_ticks = [-2.5, 0.0, 2.5]
phi_ticklabels = ["$-$2.5", "0", "2.5"]

phi_points = []
for preds in (phi_pred_a, phi_pred_b, phi_pred_c, phi_pred_d, phi_pred_e, phi_pred_f):
    phi_points.extend(zip(phi_gt, preds))

# ---------------- style ----------------
plt.rcParams["font.family"] = ["cmss10", "DejaVu Sans"]
plt.rcParams["mathtext.fontset"] = "cm"
plt.rcParams["axes.linewidth"] = 0.85
plt.rcParams["axes.edgecolor"] = "black"

FS = 12.4
TFS = 13.2
DPI = 400
W, H = 4148, 852
fig = plt.figure(figsize=(W / DPI, H / DPI), dpi=DPI)

b = 1 - 642 / H
h = 529 / H


def rect(left_px, width_px):
    return [left_px / W, b, width_px / W, h]


BLUE = "#1f77b4"
S = 30


def make_panel(r, pts, lim, line, ticks, labels, show_y=True):
    ax = fig.add_axes(r)
    df = pd.DataFrame(pts, columns=["gt", "pred"])
    ax.plot(line, line, color="red", lw=0.85, zorder=2)
    sns.scatterplot(data=df, x="gt", y="pred", ax=ax, s=S, alpha=0.2,
                    linewidth=0, color=BLUE, zorder=3)
    ax.set_xlim(lim)
    ax.set_ylim(lim)
    ax.set_xticks(ticks, labels, fontfamily="cmr10", fontsize=FS)
    if show_y:
        ax.set_yticks(ticks, labels, fontfamily="cmr10", fontsize=FS)
    else:
        ax.set_yticks([])
    ax.tick_params(axis="both", direction="out", length=3.7, width=0.85,
                   pad=6, colors="black")
    ax.set_xlabel("")
    ax.set_ylabel("")
    for sp in ax.spines.values():
        sp.set_linewidth(0.85)
        sp.set_color("black")
    return ax


ax_x = make_panel(rect(254, 533), x_points, x_lim, x_lim, x_ticks, x_ticklabels)
ax_x.axvline(x_threshold, color="black", lw=0.8, ls=(0, (4.5, 2.5)), zorder=4)
stroke = [pe.withStroke(linewidth=2.2, foreground="white")]
ax_x.text(x_threshold - 0.035, 1.5, "Near", ha="right", va="baseline", fontsize=TFS,
          path_effects=stroke, zorder=5)
ax_x.text(x_threshold + 0.075, 1.5, "Far", ha="left", va="baseline", fontsize=TFS,
          path_effects=stroke, zorder=5)

ax_yn = make_panel(rect(1018, 532), y_near_points, y_lim, y_lim, yz_ticks, yz_ticklabels)
ax_yf = make_panel(rect(1550, 529), y_far_points, y_lim, y_lim, yz_ticks, yz_ticklabels, show_y=False)
ax_zn = make_panel(rect(2311, 529), z_near_points, z_lim, z_lim, yz_ticks, yz_ticklabels)
ax_zf = make_panel(rect(2840, 531), z_far_points, z_lim, z_lim, yz_ticks, yz_ticklabels, show_y=False)
ax_p = make_panel(rect(3601, 533), phi_points, phi_lim, phi_line, phi_ticks, phi_ticklabels)

# titles
ty = 1 - 70 / H
fig.text(520 / W, ty, r"$x$", ha="center", va="baseline", fontsize=TFS)
fig.text(1284 / W, ty, "Near", ha="center", va="baseline", fontsize=TFS)
fig.text(1550 / W, ty, r"$y$", ha="center", va="baseline", fontsize=TFS)
fig.text(1814 / W, ty, "Far", ha="center", va="baseline", fontsize=TFS)
fig.text(2575 / W, ty, "Near", ha="center", va="baseline", fontsize=TFS)
fig.text(2840 / W, ty, r"$z$", ha="center", va="baseline", fontsize=TFS)
fig.text(3105 / W, ty, "Far", ha="center", va="baseline", fontsize=TFS)
fig.text(3867 / W, ty, r"$\phi$", ha="center", va="baseline", fontsize=TFS)

# axis labels
ly = 1 - 833 / H
fig.text(517 / W, ly, "Ground Truth [m]", ha="center", va="baseline", fontsize=FS)
fig.text(1548 / W, ly, "Ground Truth [m]", ha="center", va="baseline", fontsize=FS)
fig.text(2838 / W, ly, "Ground Truth [m]", ha="center", va="baseline", fontsize=FS)
fig.text(3860 / W, ly, "Ground Truth [Rad]", ha="center", va="baseline", fontsize=FS)
fig.text(20 / W, 1 - 384 / H, "Prediction [m]", ha="left", va="center", rotation=90, fontsize=FS)

fig.savefig("out.png", dpi=DPI)
